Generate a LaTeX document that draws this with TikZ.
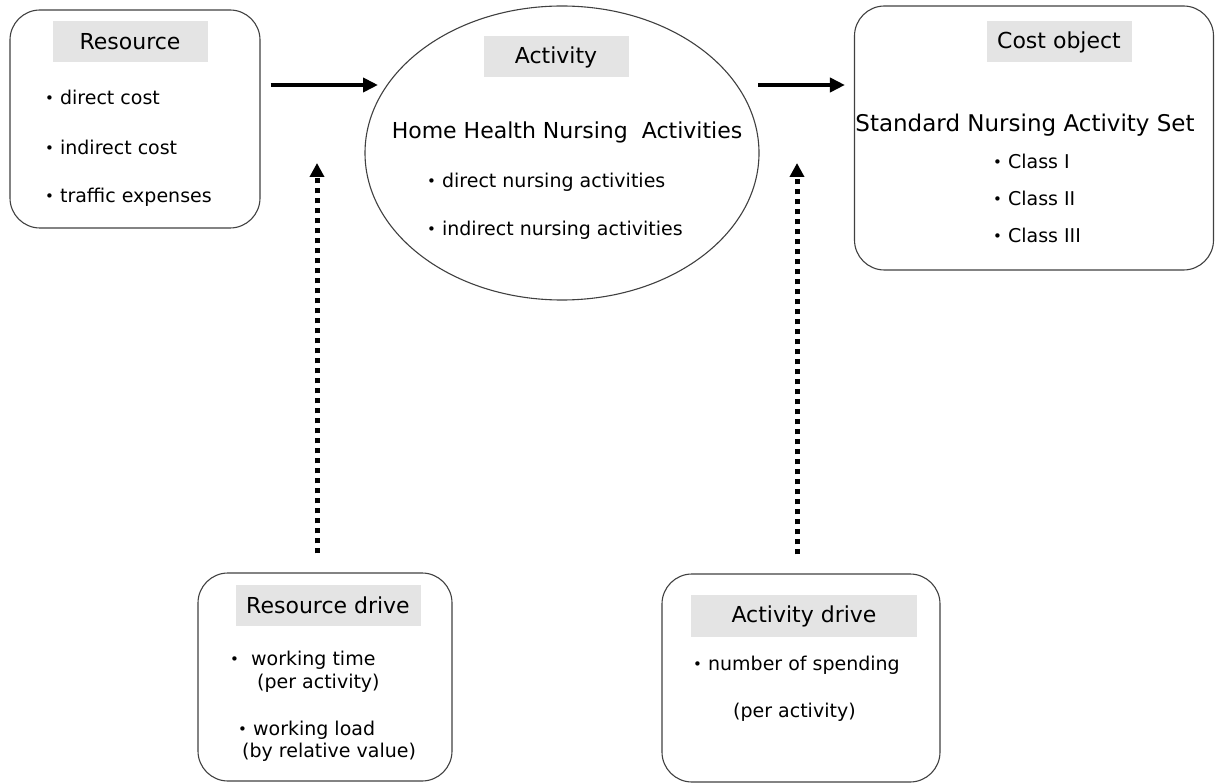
\documentclass[tikz,border=0pt]{standalone}
\usepackage{fontspec}
\setmainfont{DejaVu Sans}
\usetikzlibrary{shapes.geometric,arrows.meta}
\definecolor{hdrgray}{RGB}{228,228,228}
\newcommand{\bul}{\raisebox{0.1ex}{\fontsize{15}{15}\selectfont•}\ }
\tikzset{
  box/.style={draw=black!75,line width=1.1pt,rounded corners=30pt},
  hdr/.style={fill=hdrgray,inner sep=0pt,font=\fontsize{22}{26}\selectfont},
  item/.style={anchor=west,inner sep=0pt,font=\fontsize{19}{23}\selectfont},
  line/.style={inner sep=0pt,font=\fontsize{22}{26}\selectfont},
  flow/.style={-{Triangle[length=15pt,width=14pt]},line width=4.5pt},
  drive/.style={-{Triangle[length=14pt,width=14pt]},line width=5pt,dash pattern=on 5pt off 5pt},
}
\begin{document}
\begin{tikzpicture}[x=1pt,y=-1pt]
\useasboundingbox (0,0) rectangle (1218,783);
\node[box,minimum width=250pt,minimum height=218pt] (res) at (135,119) {};
\node[draw=black!75,line width=1.1pt,ellipse,inner sep=0pt,minimum width=394pt,minimum height=294pt] (act) at (562,153) {};
\node[box,minimum width=359pt,minimum height=264pt] (cost) at (1034,138) {};
\node[box,minimum width=254pt,minimum height=208pt] (rdrv) at (325,677) {};
\node[box,minimum width=278pt,minimum height=208pt] (adrv) at (801,678) {};

\node[hdr,minimum width=155pt,minimum height=41pt] (resh) at (130,42) {Resource};
\node[item] (res1) at (45,97) {\bul direct cost};
\node[item] (res2) at (45,147) {\bul indirect cost};
\node[item] (res3) at (45,197) {\bul traffic expenses};

\node[hdr,minimum width=145pt,minimum height=41pt] (acth) at (556,57) {Activity};
\node[line] (act0) at (567,132) {Home Health Nursing\ \ Activities};
\node[item] (act1) at (427,182) {\bul direct nursing activities};
\node[item] (act2) at (427,230) {\bul indirect nursing activities};

\node[hdr,minimum width=145pt,minimum height=41pt] (costh) at (1059,42) {Cost object};
\node[line,font=\fontsize{23}{27}\selectfont] (cost0) at (1025,125) {Standard Nursing Activity Set};
\node[item] (cost1) at (993,161) {\bul Class I};
\node[item] (cost2) at (993,198) {\bul Class II};
\node[item] (cost3) at (993,235) {\bul Class III};

\node[hdr,minimum width=185pt,minimum height=41pt] (rdrvh) at (328,605) {Resource drive};
\node[item] (rdrv1) at (230,660) {\bul\ working time};
\node[item] (rdrv2) at (257,683) {(per activity)};
\node[item] (rdrv3) at (238,730) {\bul working load};
\node[item] (rdrv4) at (242,752) {(by relative value)};

\node[hdr,minimum width=226pt,minimum height=42pt] (adrvh) at (804,616) {Activity drive};
\node[item] (adrv1) at (693,665) {\bul number of spending};
\node[item] (adrv2) at (733,712) {(per activity)};

\coordinate (r2a) at (378,85);
\coordinate (a2c) at (758,85);
\coordinate (rtip) at (317,163);
\coordinate (atip) at (797,163);
\draw[flow] ([xshift=10pt]res.east |- r2a) -- (r2a);
\draw[flow] (a2c) -- ([xshift=-9pt]cost.west |- a2c);
\draw[drive] ([yshift=19pt]rdrv.north -| rtip) -- (rtip);
\draw[drive] ([yshift=19pt]adrv.north -| atip) -- (atip);
\end{tikzpicture}
\end{document}
